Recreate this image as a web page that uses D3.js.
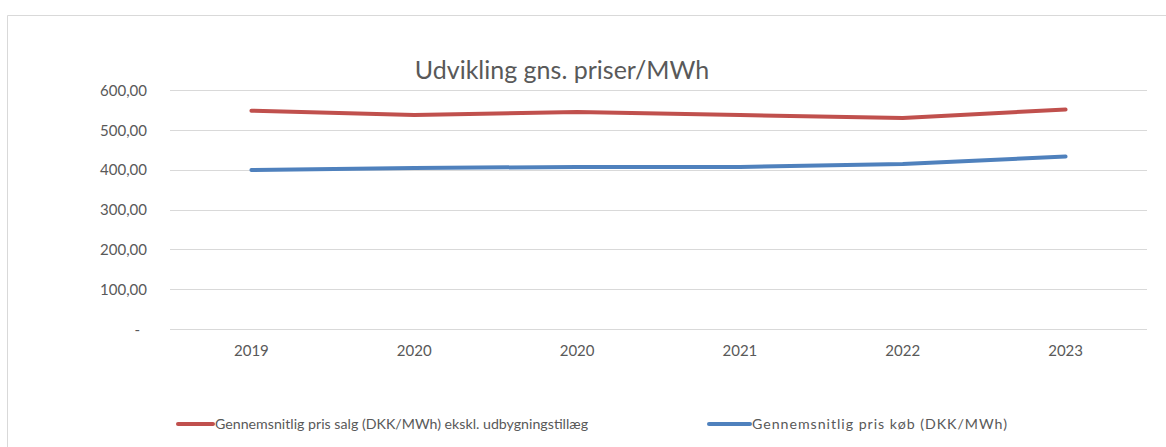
<!DOCTYPE html>
<html lang="da">
  <head>
    <meta charset="utf-8">
    <title>Udvikling gns. priser/MWh</title>
    <style>
    body { margin: 0; background: #fff; }
    text { font-family: Lato, "Open Sans", sans-serif; fill: #595959; }
    .axis path { display: none; }
    .axis line { display: none; }
    .grid line { stroke: #d9d9d9; stroke-width: 1.5; shape-rendering: crispEdges; }
    </style>
    <script src="https://cdn.jsdelivr.net/npm/d3@7"></script>
  </head>
  <body>
    <script>
      // data
      var categories = ["2019", "2020", "2020", "2021", "2022", "2023"];
      var salg = [548, 537, 545, 537, 530, 551];
      var koeb = [399, 404, 407, 407, 414, 433];
      var yTicks = [0, 100, 200, 300, 400, 500, 600];
      var seriesNames = [
        "Gennemsnitlig pris salg (DKK/MWh) ekskl. udbygningstillæg",
        "Gennemsnitlig pris køb (DKK/MWh)"
      ];
      var seriesColors = ["#c0504d", "#4f81bd"];

      var width = 1166, height = 447;
      var plot = { left: 170, right: 1147, top: 90, bottom: 329 };

      var svg = d3.select("body").append("svg")
          .attr("width", width)
          .attr("height", height);

      // chart area border (top + left visible)
      svg.append("path")
          .attr("d", "M7.5," + height + "V15.5H" + width)
          .attr("fill", "none")
          .attr("stroke", "#d9d9d9")
          .attr("stroke-width", 1);

      var x = d3.scaleBand()
          .domain(d3.range(categories.length))
          .range([plot.left, plot.right]);

      var y = d3.scaleLinear()
          .domain([0, 600])
          .range([plot.bottom, plot.top]);

      // gridlines
      svg.append("g")
          .attr("class", "grid")
          .selectAll("line")
          .data(yTicks)
          .enter().append("line")
          .attr("x1", plot.left)
          .attr("x2", plot.right)
          .attr("y1", d => Math.round(y(d)) + 0.5)
          .attr("y2", d => Math.round(y(d)) + 0.5);

      // y axis
      var fmt = d3.formatLocale({ decimal: ",", thousands: ".", grouping: [3], currency: ["", " kr."] }).format(".2f");
      var yAxis = svg.append("g")
          .attr("class", "axis")
          .attr("transform", "translate(" + (plot.left - 23) + ",0)")
          .call(d3.axisLeft(y).tickValues(yTicks).tickSize(0).tickPadding(0)
            .tickFormat(d => d === 0 ? "-" : fmt(d)));
      yAxis.selectAll("text")
          .style("font-size", "15px")
          .attr("dy", "0.35em");
      yAxis.selectAll("text").filter(d => d === 0).attr("x", -7);

      // x axis
      var xAxis = svg.append("g")
          .attr("class", "axis")
          .attr("transform", "translate(0," + (plot.bottom + 22) + ")")
          .call(d3.axisBottom(x).tickSize(0).tickPadding(0).tickFormat(i => categories[i]));
      xAxis.selectAll("text")
          .style("font-size", "15px")
          .attr("dy", "0.35em");

      // lines
      var line = d3.line()
          .x((d, i) => x(i) + x.bandwidth() / 2)
          .y(d => y(d));

      [salg, koeb].forEach(function(s, k) {
        svg.append("path")
            .datum(s)
            .attr("fill", "none")
            .attr("stroke", seriesColors[k])
            .attr("stroke-width", 4)
            .attr("stroke-linecap", "round")
            .attr("stroke-linejoin", "round")
            .attr("d", line);
      });

      // title
      svg.append("text")
          .attr("x", 562)
          .attr("y", 79)
          .attr("text-anchor", "middle")
          .style("font-size", "25px")
          .text("Udvikling gns. priser/MWh");

      // legend (the second entry is a bit wider in the original)
      var legendX = [178, 709];
      var legendLine = [35, 41];
      var legend = svg.selectAll(".legend")
          .data(seriesNames)
          .enter().append("g")
          .attr("class", "legend")
          .attr("transform", (d, i) => "translate(" + legendX[i] + ",424)");
      legend.append("line")
          .attr("x1", 0).attr("x2", (d, i) => legendLine[i])
          .attr("stroke", (d, i) => seriesColors[i])
          .attr("stroke-width", 4)
          .attr("stroke-linecap", "round");
      legend.append("text")
          .attr("x", (d, i) => legendLine[i] + 2)
          .attr("dy", "0.35em")
          .style("font-size", "14.2px")
          .text(d => d);
      legend.filter((d, i) => i === 1).select("text")
          .attr("textLength", 255)
          .attr("lengthAdjust", "spacing");
    </script>
  </body>
</html>
